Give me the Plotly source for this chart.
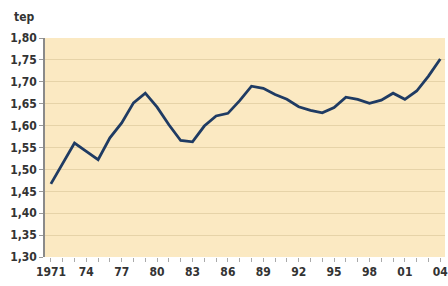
import plotly.graph_objects as go

years = list(range(1971, 2005))
values = [1.467, 1.513, 1.560, 1.541, 1.522, 1.572, 1.606, 1.652, 1.674, 1.642,
          1.602, 1.566, 1.563, 1.599, 1.622, 1.628, 1.657, 1.690, 1.685, 1.671,
          1.660, 1.643, 1.635, 1.629, 1.641, 1.665, 1.660, 1.651, 1.658, 1.674,
          1.660, 1.679, 1.713, 1.752]

x_tick_labels = {1971: "1971", 1974: "74", 1977: "77", 1980: "80", 1983: "83",
                 1986: "86", 1989: "89", 1992: "92", 1995: "95", 1998: "98",
                 2001: "01", 2004: "04"}
y_tick_vals = [1.30, 1.35, 1.40, 1.45, 1.50, 1.55, 1.60, 1.65, 1.70, 1.75, 1.80]
y_tick_text = ["1,30", "1,35", "1,40", "1,45", "1,50", "1,55", "1,60", "1,65", "1,70", "1,75", "1,80"]
unit_label = "tep"

font_family = "DejaVu Sans Condensed, Liberation Sans Narrow, sans-serif"
label_font = dict(family=font_family, size=12, color="#333333", weight="bold")

fig = go.Figure()
fig.add_trace(go.Scatter(
    x=years, y=values, mode="lines",
    line=dict(color="#1F3B63", width=2.8),
    hoverinfo="skip",
))

fig.update_layout(
    width=448, height=286,
    margin=dict(l=45, r=0, t=38, b=29),
    paper_bgcolor="white",
    plot_bgcolor="#FBE9C2",
    showlegend=False,
    font=dict(family=font_family, size=12, color="#333333"),
    annotations=[dict(
        text=unit_label, xref="paper", yref="paper", x=0, y=1.0,
        xshift=-33, yshift=21, xanchor="left", yanchor="middle", showarrow=False,
        font=label_font,
    )],
)

fig.update_xaxes(
    range=[1970.5, 2004.4],
    tickmode="array",
    tickvals=years,
    ticktext=[x_tick_labels.get(y, "") for y in years],
    ticks="outside", ticklen=4, tickwidth=1, tickcolor="#aaaaaa",
    showgrid=False, zeroline=False, showline=False,
    ticklabeloverflow="allow",
    tickfont=label_font,
)
fig.update_yaxes(
    range=[1.30, 1.80],
    tickmode="array",
    tickvals=y_tick_vals,
    ticktext=y_tick_text,
    ticks="outside", ticklen=4, tickwidth=1, tickcolor="#999999",
    showgrid=True, gridcolor="#E6D3A8", gridwidth=1,
    zeroline=False, showline=True, linecolor="#8a8a8a", linewidth=1.5,
    tickfont=label_font,
)

fig.write_html(
    "out.html",
    config={"displayModeBar": False},
    post_script="document.body.style.margin='0';document.body.style.overflow='hidden';",
)
